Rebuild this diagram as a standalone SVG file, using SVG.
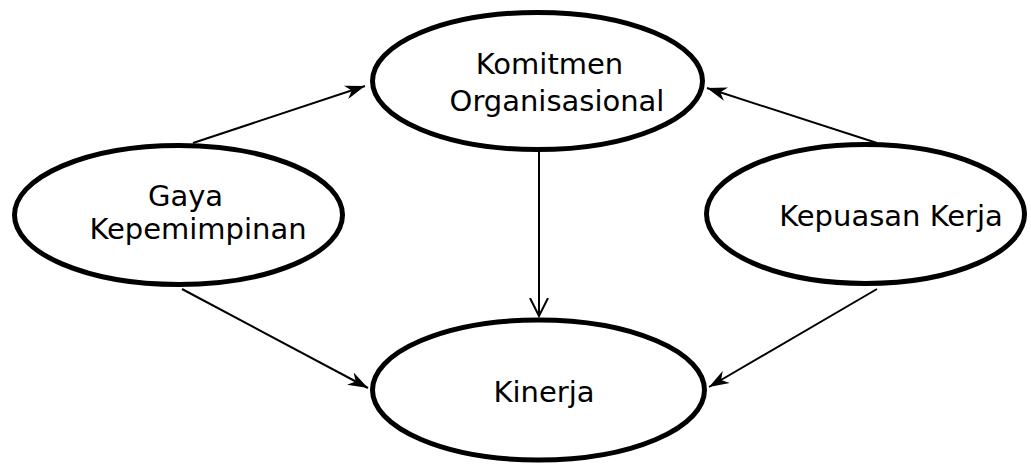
<svg xmlns="http://www.w3.org/2000/svg" width="1031" height="465" viewBox="0 0 1031 465">
<style>
.node ellipse{fill:#fff;stroke:#000;stroke-width:5}
.node text{font-family:"DejaVu Sans",sans-serif;font-size:29px;fill:#000;text-anchor:middle}
.edge{stroke:#000;stroke-width:2;fill:none}
</style>
<defs>
<marker id="fa" viewBox="0 0 20 14" refX="20" refY="7" markerWidth="20" markerHeight="14" markerUnits="userSpaceOnUse" orient="auto">
<path d="M0,0 L20,7 L0,14 L6,7 Z" fill="#000"/>
</marker>
<marker id="va" viewBox="0 0 20 20" refX="18" refY="10" markerWidth="20" markerHeight="20" markerUnits="userSpaceOnUse" orient="auto">
<path d="M0,1 L18,10 L0,19" fill="none" stroke="#000" stroke-width="2"/>
</marker>
</defs>
<rect width="1031" height="465" fill="#fff"/>
<g id="connectors">
<line class="edge" x1="193" y1="143" x2="365" y2="86" marker-end="url(#fa)"/>
<line class="edge" x1="877" y1="143" x2="707" y2="88" marker-end="url(#fa)"/>
<line class="edge" x1="539" y1="151" x2="539" y2="316" marker-end="url(#va)"/>
<line class="edge" x1="182" y1="289" x2="368" y2="388" marker-end="url(#fa)"/>
<line class="edge" x1="877" y1="289" x2="709" y2="387" marker-end="url(#fa)"/>
</g>
<g id="komitmen" class="node">
<ellipse cx="537.5" cy="81" rx="165" ry="68.5"/>
<text x="549.5" y="74">Komitmen</text>
<text x="557" y="111">Organisasional</text>
</g>
<g id="gaya" class="node">
<ellipse cx="178.5" cy="215" rx="164" ry="69.5"/>
<text x="185.5" y="206">Gaya</text>
<text x="198" y="239">Kepemimpinan</text>
</g>
<g id="kepuasan" class="node">
<ellipse cx="865.5" cy="214" rx="159" ry="69.5"/>
<text x="891" y="226">Kepuasan Kerja</text>
</g>
<g id="kinerja" class="node">
<ellipse cx="538.5" cy="390" rx="166" ry="70"/>
<text x="544" y="402">Kinerja</text>
</g>
</svg>
